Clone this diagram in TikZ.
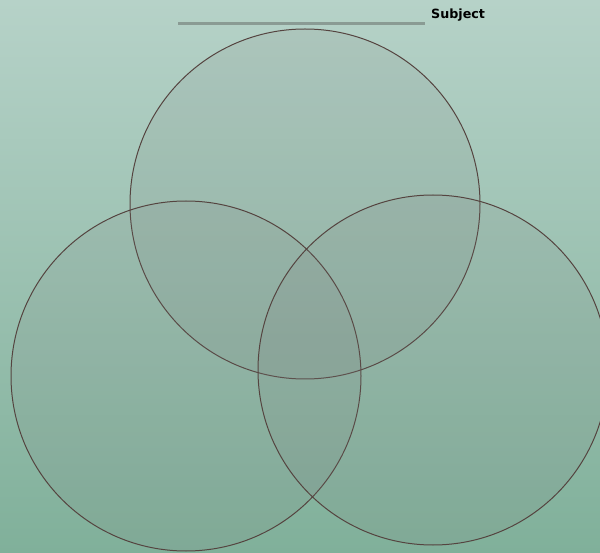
\documentclass[tikz,border=0pt]{standalone}
\usepackage{fontspec}
\setmainfont{DejaVu Sans}
\begin{document}
\begin{tikzpicture}[x=1pt,y=-1pt,
  venn/.style={draw={rgb,255:red,85;green,68;blue,64},line width=1pt,fill={rgb,255:red,125;green,125;blue,125},fill opacity=0.13},
  ruleline/.style={draw={rgb,255:red,138;green,155;blue,148},line width=3pt}]
\definecolor{bgtop}{RGB}{182,210,200}
\definecolor{bgbot}{RGB}{128,176,154}
\useasboundingbox (0,0) rectangle (600,553);
\shade[top color=bgtop,bottom color=bgbot] (0,0) rectangle (600,553);
\begin{scope}
\clip (0,0) rectangle (600,553);
\path[venn] (305,204) circle[radius=175];
\path[venn] (186,376) circle[radius=175];
\path[venn] (433,370) circle[radius=175];
\end{scope}
\coordinate (ls) at (178,24);
\coordinate (le) at (425,24);
\draw[ruleline] (ls) -- (le);
\node[anchor=base west,inner sep=0pt,font=\fontsize{12.7}{14}\selectfont\bfseries] (subj) at (431,19) {Subject};
\end{tikzpicture}
\end{document}
